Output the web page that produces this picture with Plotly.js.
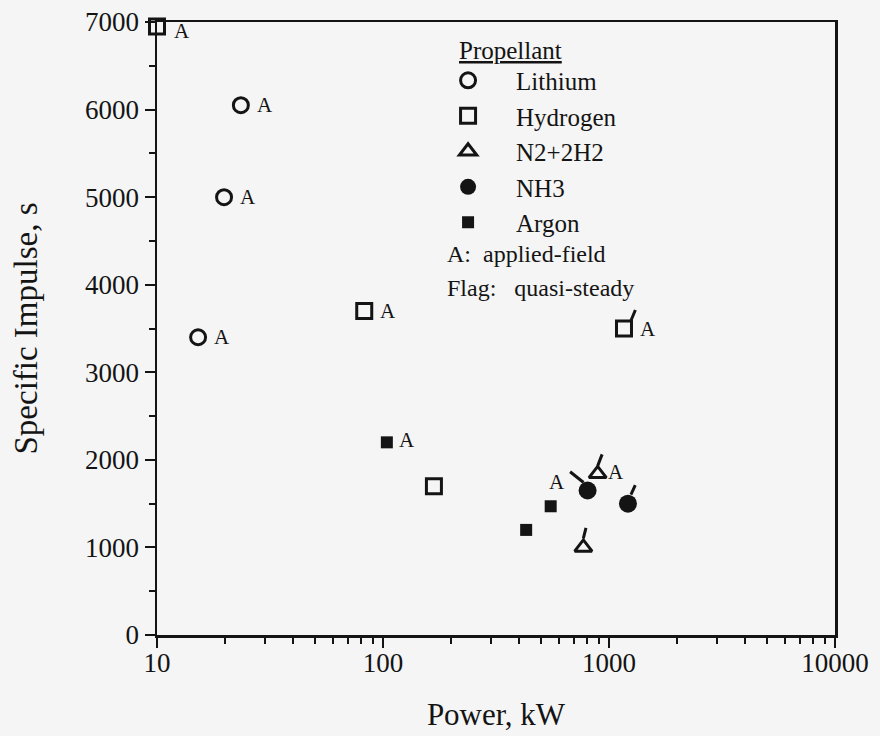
<!DOCTYPE html>
<html>
<head>
<meta charset="utf-8">
<script src="https://cdn.plot.ly/plotly-3.0.1.min.js"></script>
<style>html,body{margin:0;padding:0;background:#f5f5f5;}#chart{width:880px;height:736px;}</style>
</head>
<body>
<div id="chart"></div>
<script>
// ---- Data ----
const xTickVals = [10, 100, 1000, 10000];
const xTickText = ['10', '100', '1000', '10000'];

const lithiumPower = [23.5, 19.8, 15.2];
const lithiumIsp = [6050, 5000, 3400];
const lithiumApplied = [true, true, true];
const lithiumQuasi = [false, false, false];

const hydrogenPower = [10, 82.6, 1165, 168];
const hydrogenIsp = [6950, 3700, 3500, 1700];
const hydrogenApplied = [true, true, true, false];
const hydrogenQuasi = [false, false, true, false];

const n2h2Power = [891, 770];
const n2h2Isp = [1840, 1000];
const n2h2Applied = [true, false];
const n2h2Quasi = [true, true];

const nh3Power = [804, 1213];
const nh3Isp = [1650, 1500];
const nh3Applied = [false, false];
const nh3Quasi = [true, true];

const argonPower = [104, 430, 552];
const argonIsp = [2200, 1200, 1470];
const argonApplied = [true, false, true];
const argonQuasi = [false, false, false];

// ---- Styles ----
const FONT = 'Liberation Serif, Times New Roman, serif';
const INK = '#141414';
const series = [
  {name: 'Lithium', x: lithiumPower, y: lithiumIsp, af: lithiumApplied, qs: lithiumQuasi,
   marker: {symbol: 'circle-open', size: 15, color: INK, line: {width: 3, color: INK}}},
  {name: 'Hydrogen', x: hydrogenPower, y: hydrogenIsp, af: hydrogenApplied, qs: hydrogenQuasi,
   marker: {symbol: 'square-open', size: 15, color: INK, line: {width: 3, color: INK}}},
  {name: 'N2+2H2', x: n2h2Power, y: n2h2Isp, af: n2h2Applied, qs: n2h2Quasi,
   marker: {symbol: 'triangle-up-open', size: 15, color: INK, line: {width: 3, color: INK}}},
  {name: 'NH3', x: nh3Power, y: nh3Isp, af: nh3Applied, qs: nh3Quasi,
   marker: {symbol: 'circle', size: 18, color: INK, line: {width: 0}}},
  {name: 'Argon', x: argonPower, y: argonIsp, af: argonApplied, qs: argonQuasi,
   marker: {symbol: 'square', size: 12, color: INK, line: {width: 0}}}
];
// label offsets (pixels) for "A" tags; default right of marker
const labelShift = {def: {sx: 24, sy: 0}, 'Hydrogen:0': {sx: 25, sy: -5}, 'Argon:0': {sx: 20, sy: 2}, 'Argon:2': {sx: 6, sy: 24}, 'N2+2H2:0': {sx: 18, sy: 2}};
// flag geometry: start offset from marker centre and flag vector (pixels)
const flagGeom = {
  'Hydrogen:2': {sx: 7, sy: 8, ax: 5, ay: -12},
  'N2+2H2:0': {sx: 0, sy: 8, ax: 5, ay: -13},
  'N2+2H2:1': {sx: 0, sy: 9, ax: 3, ay: -12},
  'NH3:0': {sx: -4, sy: 8, ax: -15, ay: -12},
  'NH3:1': {sx: 3, sy: 9, ax: 5, ay: -11}
};

const traces = series.map((s, i) => ({
  type: 'scatter', mode: 'markers', name: s.name, x: s.x, y: s.y,
  marker: s.marker, cliponaxis: false, legendgroup: 'g' + i, showlegend: true
}));

const annotations = [];
series.forEach(s => {
  s.x.forEach((xv, j) => {
    const key = s.name + ':' + j;
    if (s.af[j]) {
      const sh = labelShift[key] || labelShift.def;
      annotations.push({x: Math.log10(xv), y: s.y[j], xref: 'x', yref: 'y', text: 'A', showarrow: false,
        xshift: sh.sx, yshift: sh.sy, font: {family: FONT, size: 21, color: INK}});
    }
    if (s.qs[j]) {
      const g = flagGeom[key];
      annotations.push({x: Math.log10(xv), y: s.y[j], xref: 'x', yref: 'y', text: '', showarrow: true,
        arrowhead: 0, arrowwidth: 3, arrowcolor: INK, ax: g.ax, ay: g.ay, xshift: g.sx, yshift: g.sy, standoff: 0});
    }
  });
});
annotations.push({xref: 'paper', yref: 'paper', x: 0.443, y: 0.953, xanchor: 'left', yanchor: 'middle', showarrow: false,
  text: '<span style="text-decoration:underline">Propellant</span>', font: {family: FONT, size: 25, color: INK}});
annotations.push({xref: 'paper', yref: 'paper', x: 0.425, y: 0.621, xanchor: 'left', yanchor: 'middle', showarrow: false,
  text: 'A:  applied-field', font: {family: FONT, size: 24, color: INK}});
annotations.push({xref: 'paper', yref: 'paper', x: 0.425, y: 0.566, xanchor: 'left', yanchor: 'middle', showarrow: false,
  text: 'Flag:   quasi-steady', font: {family: FONT, size: 24, color: INK}});

const axisCommon = {
  showline: true, linecolor: INK, linewidth: 2.5, mirror: true, showgrid: false, zeroline: false,
  ticks: 'outside', ticklen: 10, tickwidth: 2, tickcolor: INK, automargin: false,
  tickfont: {family: FONT, size: 27, color: INK}
};

const layout = {
  width: 880, height: 736,
  margin: {l: 157, r: 45, t: 22, b: 101},
  paper_bgcolor: '#f5f5f5', plot_bgcolor: '#f5f5f5',
  showlegend: true,
  legend: {x: 0.388, y: 0.942, xanchor: 'left', yanchor: 'top', bgcolor: 'rgba(0,0,0,0)',
    font: {family: FONT, size: 25, color: INK}, itemwidth: 86, tracegroupgap: 11, traceorder: 'normal'},
  xaxis: Object.assign({}, axisCommon, {
    type: 'log', range: [1, 4], tickvals: xTickVals, ticktext: xTickText, ticklabelstandoff: -8,
    minor: {ticks: 'outside', ticklen: 6, tickwidth: 2, tickcolor: INK, dtick: 'D1', showgrid: false},
    title: {text: 'Power, kW', font: {family: FONT, size: 31, color: INK}, standoff: 27}
  }),
  yaxis: Object.assign({}, axisCommon, {
    range: [0, 7000], dtick: 1000, tick0: 0,
    minor: {ticks: 'outside', ticklen: 6, tickwidth: 2, tickcolor: INK, dtick: 500, showgrid: false},
    title: {text: 'Specific Impulse, s', font: {family: FONT, size: 33, color: INK}, standoff: 38}
  }),
  annotations: annotations
};

Plotly.newPlot('chart', traces, layout, {displayModeBar: false, staticPlot: true});
</script>
</body>
</html>
